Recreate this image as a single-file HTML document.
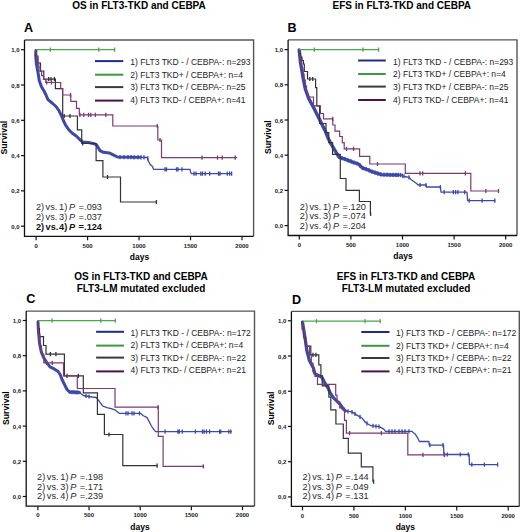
<!DOCTYPE html>
<html><head><meta charset="utf-8"><style>
html,body{margin:0;padding:0;background:#fff;width:520px;height:532px;overflow:hidden}
svg{display:block}
text{font-family:"Liberation Sans", sans-serif}
</style></head><body>
<svg width="520" height="532" viewBox="0 0 520 532">
<rect width="520" height="532" fill="#fff"/>
<text x="139.00" y="8.50" font-size="10" font-weight="bold" text-anchor="middle" fill="#000" >OS in FLT3-TKD and CEBPA</text>
<text x="24.00" y="32.30" font-size="12.6" font-weight="bold" text-anchor="start" fill="#000" >A</text>
<path d="M24.50,40.00 H253.60 V236.30" fill="none" stroke="#555" stroke-width="1.4"/>
<path d="M24.50,40.00 V236.30 H253.60" fill="none" stroke="#111" stroke-width="1.3"/>
<line x1="21.00" y1="226.20" x2="24.50" y2="226.20" stroke="#111" stroke-width="1.2"/>
<text x="19.50" y="228.70" font-size="6.0" font-weight="bold" text-anchor="end" fill="#1a1a1a" >0,0</text>
<line x1="21.00" y1="190.90" x2="24.50" y2="190.90" stroke="#111" stroke-width="1.2"/>
<text x="19.50" y="193.40" font-size="6.0" font-weight="bold" text-anchor="end" fill="#1a1a1a" >0,2</text>
<line x1="21.00" y1="155.60" x2="24.50" y2="155.60" stroke="#111" stroke-width="1.2"/>
<text x="19.50" y="158.10" font-size="6.0" font-weight="bold" text-anchor="end" fill="#1a1a1a" >0,4</text>
<line x1="21.00" y1="120.30" x2="24.50" y2="120.30" stroke="#111" stroke-width="1.2"/>
<text x="19.50" y="122.80" font-size="6.0" font-weight="bold" text-anchor="end" fill="#1a1a1a" >0,6</text>
<line x1="21.00" y1="85.00" x2="24.50" y2="85.00" stroke="#111" stroke-width="1.2"/>
<text x="19.50" y="87.50" font-size="6.0" font-weight="bold" text-anchor="end" fill="#1a1a1a" >0,8</text>
<line x1="21.00" y1="49.70" x2="24.50" y2="49.70" stroke="#111" stroke-width="1.2"/>
<text x="19.50" y="52.20" font-size="6.0" font-weight="bold" text-anchor="end" fill="#1a1a1a" >1,0</text>
<line x1="36.10" y1="236.30" x2="36.10" y2="240.30" stroke="#111" stroke-width="1.2"/>
<text x="36.10" y="247.50" font-size="6.0" font-weight="bold" text-anchor="middle" fill="#1a1a1a" >0</text>
<line x1="87.58" y1="236.30" x2="87.58" y2="240.30" stroke="#111" stroke-width="1.2"/>
<text x="87.58" y="247.50" font-size="6.0" font-weight="bold" text-anchor="middle" fill="#1a1a1a" >500</text>
<line x1="139.05" y1="236.30" x2="139.05" y2="240.30" stroke="#111" stroke-width="1.2"/>
<text x="139.05" y="247.50" font-size="6.0" font-weight="bold" text-anchor="middle" fill="#1a1a1a" >1000</text>
<line x1="190.53" y1="236.30" x2="190.53" y2="240.30" stroke="#111" stroke-width="1.2"/>
<text x="190.53" y="247.50" font-size="6.0" font-weight="bold" text-anchor="middle" fill="#1a1a1a" >1500</text>
<line x1="242.00" y1="236.30" x2="242.00" y2="240.30" stroke="#111" stroke-width="1.2"/>
<text x="242.00" y="247.50" font-size="6.0" font-weight="bold" text-anchor="middle" fill="#1a1a1a" >2000</text>
<text x="139.55" y="260.10" font-size="8.5" font-weight="bold" text-anchor="middle" fill="#000" >days</text>
<text x="0.00" y="0.00" font-size="8.7" font-weight="bold" text-anchor="middle" fill="#000" transform="translate(7.20,137.65) rotate(-90)">Survival</text>
<line x1="95.00" y1="61.10" x2="123.30" y2="61.10" stroke="#1f2a8a" stroke-width="2"/>
<text x="130.30" y="64.90" font-size="8.5" font-weight="normal" text-anchor="start" fill="#222" >1) FLT3 TKD - / CEBPA-: n=293</text>
<line x1="95.00" y1="74.70" x2="123.30" y2="74.70" stroke="#3c9a3c" stroke-width="2"/>
<text x="130.30" y="77.80" font-size="8.5" font-weight="normal" text-anchor="start" fill="#222" >2) FLT3 TKD+ / CEBPA+: n=4</text>
<line x1="95.00" y1="87.10" x2="123.30" y2="87.10" stroke="#3a3a3a" stroke-width="2"/>
<text x="130.30" y="90.40" font-size="8.5" font-weight="normal" text-anchor="start" fill="#222" >3) FLT3 TKD+ / CEBPA-: n=25</text>
<line x1="95.00" y1="100.60" x2="123.30" y2="100.60" stroke="#4a124a" stroke-width="2"/>
<text x="130.30" y="102.80" font-size="8.5" font-weight="normal" text-anchor="start" fill="#222" >4) FLT3 TKD- / CEBPA+: n=41</text>
<text transform="translate(35.90,209.80) scale(1.12,1)" font-size="8.2" font-weight="normal" fill="#2a2a2a">2)</text>
<text transform="translate(45.60,209.80) scale(1.12,1)" font-size="8.2" font-weight="normal" fill="#2a2a2a">vs.</text>
<text transform="translate(59.10,209.80) scale(1.12,1)" font-size="8.2" font-weight="normal" fill="#2a2a2a">1)</text>
<text transform="translate(69.10,209.80) scale(1.12,1)" font-size="8.2" font-weight="normal" fill="#2a2a2a" font-style="italic">P</text>
<text transform="translate(78.60,209.80) scale(1.12,1)" font-size="8.2" font-weight="normal" fill="#2a2a2a">=</text>
<text transform="translate(84.10,209.80) scale(1.12,1)" font-size="8.2" font-weight="normal" fill="#2a2a2a">.093</text>
<text transform="translate(35.90,219.60) scale(1.12,1)" font-size="8.2" font-weight="normal" fill="#2a2a2a">2)</text>
<text transform="translate(45.60,219.60) scale(1.12,1)" font-size="8.2" font-weight="normal" fill="#2a2a2a">vs.</text>
<text transform="translate(59.10,219.60) scale(1.12,1)" font-size="8.2" font-weight="normal" fill="#2a2a2a">3)</text>
<text transform="translate(69.10,219.60) scale(1.12,1)" font-size="8.2" font-weight="normal" fill="#2a2a2a" font-style="italic">P</text>
<text transform="translate(78.60,219.60) scale(1.12,1)" font-size="8.2" font-weight="normal" fill="#2a2a2a">=</text>
<text transform="translate(84.10,219.60) scale(1.12,1)" font-size="8.2" font-weight="normal" fill="#2a2a2a">.037</text>
<text transform="translate(35.90,229.60) scale(1.12,1)" font-size="8.2" font-weight="bold" fill="#111">2)</text>
<text transform="translate(45.60,229.60) scale(1.12,1)" font-size="8.2" font-weight="bold" fill="#111">vs.</text>
<text transform="translate(59.10,229.60) scale(1.12,1)" font-size="8.2" font-weight="bold" fill="#111">4)</text>
<text transform="translate(69.10,229.60) scale(1.12,1)" font-size="8.2" font-weight="bold" fill="#111" font-style="italic">P</text>
<text transform="translate(78.60,229.60) scale(1.12,1)" font-size="8.2" font-weight="bold" fill="#111">=</text>
<text transform="translate(84.10,229.60) scale(1.12,1)" font-size="8.2" font-weight="bold" fill="#111">.124</text>
<text x="401.80" y="8.50" font-size="10" font-weight="bold" text-anchor="middle" fill="#000" >EFS in FLT3-TKD and CEBPA</text>
<text x="287.60" y="32.10" font-size="12.6" font-weight="bold" text-anchor="start" fill="#000" >B</text>
<path d="M288.10,39.90 H517.00 V235.50" fill="none" stroke="#555" stroke-width="1.4"/>
<path d="M288.10,39.90 V235.50 H517.00" fill="none" stroke="#111" stroke-width="1.3"/>
<line x1="284.60" y1="225.60" x2="288.10" y2="225.60" stroke="#111" stroke-width="1.2"/>
<text x="283.10" y="228.10" font-size="6.0" font-weight="bold" text-anchor="end" fill="#1a1a1a" >0,0</text>
<line x1="284.60" y1="190.40" x2="288.10" y2="190.40" stroke="#111" stroke-width="1.2"/>
<text x="283.10" y="192.90" font-size="6.0" font-weight="bold" text-anchor="end" fill="#1a1a1a" >0,2</text>
<line x1="284.60" y1="155.20" x2="288.10" y2="155.20" stroke="#111" stroke-width="1.2"/>
<text x="283.10" y="157.70" font-size="6.0" font-weight="bold" text-anchor="end" fill="#1a1a1a" >0,4</text>
<line x1="284.60" y1="120.00" x2="288.10" y2="120.00" stroke="#111" stroke-width="1.2"/>
<text x="283.10" y="122.50" font-size="6.0" font-weight="bold" text-anchor="end" fill="#1a1a1a" >0,6</text>
<line x1="284.60" y1="84.80" x2="288.10" y2="84.80" stroke="#111" stroke-width="1.2"/>
<text x="283.10" y="87.30" font-size="6.0" font-weight="bold" text-anchor="end" fill="#1a1a1a" >0,8</text>
<line x1="284.60" y1="49.60" x2="288.10" y2="49.60" stroke="#111" stroke-width="1.2"/>
<text x="283.10" y="52.10" font-size="6.0" font-weight="bold" text-anchor="end" fill="#1a1a1a" >1,0</text>
<line x1="299.30" y1="235.50" x2="299.30" y2="239.50" stroke="#111" stroke-width="1.2"/>
<text x="299.30" y="246.70" font-size="6.0" font-weight="bold" text-anchor="middle" fill="#1a1a1a" >0</text>
<line x1="350.90" y1="235.50" x2="350.90" y2="239.50" stroke="#111" stroke-width="1.2"/>
<text x="350.90" y="246.70" font-size="6.0" font-weight="bold" text-anchor="middle" fill="#1a1a1a" >500</text>
<line x1="402.50" y1="235.50" x2="402.50" y2="239.50" stroke="#111" stroke-width="1.2"/>
<text x="402.50" y="246.70" font-size="6.0" font-weight="bold" text-anchor="middle" fill="#1a1a1a" >1000</text>
<line x1="454.10" y1="235.50" x2="454.10" y2="239.50" stroke="#111" stroke-width="1.2"/>
<text x="454.10" y="246.70" font-size="6.0" font-weight="bold" text-anchor="middle" fill="#1a1a1a" >1500</text>
<line x1="505.70" y1="235.50" x2="505.70" y2="239.50" stroke="#111" stroke-width="1.2"/>
<text x="505.70" y="246.70" font-size="6.0" font-weight="bold" text-anchor="middle" fill="#1a1a1a" >2000</text>
<text x="403.05" y="259.30" font-size="8.5" font-weight="bold" text-anchor="middle" fill="#000" >days</text>
<text x="0.00" y="0.00" font-size="8.7" font-weight="bold" text-anchor="middle" fill="#000" transform="translate(270.80,137.20) rotate(-90)">Survival</text>
<line x1="358.10" y1="60.50" x2="385.80" y2="60.50" stroke="#1f2a8a" stroke-width="2"/>
<text x="393.10" y="64.90" font-size="8.5" font-weight="normal" text-anchor="start" fill="#222" >1) FLT3 TKD - / CEBPA-: n=293</text>
<line x1="358.10" y1="74.00" x2="385.80" y2="74.00" stroke="#3c9a3c" stroke-width="2"/>
<text x="393.10" y="77.30" font-size="8.5" font-weight="normal" text-anchor="start" fill="#222" >2) FLT3 TKD+ / CEBPA+: n=4</text>
<line x1="358.10" y1="86.60" x2="385.80" y2="86.60" stroke="#3a3a3a" stroke-width="2"/>
<text x="393.10" y="89.70" font-size="8.5" font-weight="normal" text-anchor="start" fill="#222" >3) FLT3 TKD+ / CEBPA-: n=25</text>
<line x1="358.10" y1="100.00" x2="385.80" y2="100.00" stroke="#4a124a" stroke-width="2"/>
<text x="393.10" y="102.60" font-size="8.5" font-weight="normal" text-anchor="start" fill="#222" >4) FLT3 TKD- / CEBPA+: n=41</text>
<text transform="translate(299.80,209.50) scale(1.12,1)" font-size="8.2" font-weight="normal" fill="#2a2a2a">2)</text>
<text transform="translate(309.50,209.50) scale(1.12,1)" font-size="8.2" font-weight="normal" fill="#2a2a2a">vs.</text>
<text transform="translate(323.00,209.50) scale(1.12,1)" font-size="8.2" font-weight="normal" fill="#2a2a2a">1)</text>
<text transform="translate(333.00,209.50) scale(1.12,1)" font-size="8.2" font-weight="normal" fill="#2a2a2a" font-style="italic">P</text>
<text transform="translate(342.50,209.50) scale(1.12,1)" font-size="8.2" font-weight="normal" fill="#2a2a2a">=</text>
<text transform="translate(348.00,209.50) scale(1.12,1)" font-size="8.2" font-weight="normal" fill="#2a2a2a">.120</text>
<text transform="translate(299.80,219.20) scale(1.12,1)" font-size="8.2" font-weight="normal" fill="#2a2a2a">2)</text>
<text transform="translate(309.50,219.20) scale(1.12,1)" font-size="8.2" font-weight="normal" fill="#2a2a2a">vs.</text>
<text transform="translate(323.00,219.20) scale(1.12,1)" font-size="8.2" font-weight="normal" fill="#2a2a2a">3)</text>
<text transform="translate(333.00,219.20) scale(1.12,1)" font-size="8.2" font-weight="normal" fill="#2a2a2a" font-style="italic">P</text>
<text transform="translate(342.50,219.20) scale(1.12,1)" font-size="8.2" font-weight="normal" fill="#2a2a2a">=</text>
<text transform="translate(348.00,219.20) scale(1.12,1)" font-size="8.2" font-weight="normal" fill="#2a2a2a">.074</text>
<text transform="translate(299.80,229.00) scale(1.12,1)" font-size="8.2" font-weight="normal" fill="#2a2a2a">2)</text>
<text transform="translate(309.50,229.00) scale(1.12,1)" font-size="8.2" font-weight="normal" fill="#2a2a2a">vs.</text>
<text transform="translate(323.00,229.00) scale(1.12,1)" font-size="8.2" font-weight="normal" fill="#2a2a2a">4)</text>
<text transform="translate(333.00,229.00) scale(1.12,1)" font-size="8.2" font-weight="normal" fill="#2a2a2a" font-style="italic">P</text>
<text transform="translate(342.50,229.00) scale(1.12,1)" font-size="8.2" font-weight="normal" fill="#2a2a2a">=</text>
<text transform="translate(348.00,229.00) scale(1.12,1)" font-size="8.2" font-weight="normal" fill="#2a2a2a">.204</text>
<text x="141.00" y="279.90" font-size="10" font-weight="bold" text-anchor="middle" fill="#000" >OS in FLT3-TKD and CEBPA</text>
<text x="141.00" y="292.30" font-size="10" font-weight="bold" text-anchor="middle" fill="#000" >FLT3-LM mutated excluded</text>
<text x="26.20" y="303.30" font-size="12.6" font-weight="bold" text-anchor="start" fill="#000" >C</text>
<path d="M26.20,311.10 H254.50 V506.20" fill="none" stroke="#555" stroke-width="1.4"/>
<path d="M26.20,311.10 V506.20 H254.50" fill="none" stroke="#111" stroke-width="1.3"/>
<line x1="22.70" y1="496.50" x2="26.20" y2="496.50" stroke="#111" stroke-width="1.2"/>
<text x="21.20" y="499.00" font-size="6.0" font-weight="bold" text-anchor="end" fill="#1a1a1a" >0,0</text>
<line x1="22.70" y1="461.30" x2="26.20" y2="461.30" stroke="#111" stroke-width="1.2"/>
<text x="21.20" y="463.80" font-size="6.0" font-weight="bold" text-anchor="end" fill="#1a1a1a" >0,2</text>
<line x1="22.70" y1="426.10" x2="26.20" y2="426.10" stroke="#111" stroke-width="1.2"/>
<text x="21.20" y="428.60" font-size="6.0" font-weight="bold" text-anchor="end" fill="#1a1a1a" >0,4</text>
<line x1="22.70" y1="390.90" x2="26.20" y2="390.90" stroke="#111" stroke-width="1.2"/>
<text x="21.20" y="393.40" font-size="6.0" font-weight="bold" text-anchor="end" fill="#1a1a1a" >0,6</text>
<line x1="22.70" y1="355.70" x2="26.20" y2="355.70" stroke="#111" stroke-width="1.2"/>
<text x="21.20" y="358.20" font-size="6.0" font-weight="bold" text-anchor="end" fill="#1a1a1a" >0,8</text>
<line x1="22.70" y1="320.50" x2="26.20" y2="320.50" stroke="#111" stroke-width="1.2"/>
<text x="21.20" y="323.00" font-size="6.0" font-weight="bold" text-anchor="end" fill="#1a1a1a" >1,0</text>
<line x1="37.90" y1="506.20" x2="37.90" y2="510.20" stroke="#111" stroke-width="1.2"/>
<text x="37.90" y="517.40" font-size="6.0" font-weight="bold" text-anchor="middle" fill="#1a1a1a" >0</text>
<line x1="89.05" y1="506.20" x2="89.05" y2="510.20" stroke="#111" stroke-width="1.2"/>
<text x="89.05" y="517.40" font-size="6.0" font-weight="bold" text-anchor="middle" fill="#1a1a1a" >500</text>
<line x1="140.20" y1="506.20" x2="140.20" y2="510.20" stroke="#111" stroke-width="1.2"/>
<text x="140.20" y="517.40" font-size="6.0" font-weight="bold" text-anchor="middle" fill="#1a1a1a" >1000</text>
<line x1="191.35" y1="506.20" x2="191.35" y2="510.20" stroke="#111" stroke-width="1.2"/>
<text x="191.35" y="517.40" font-size="6.0" font-weight="bold" text-anchor="middle" fill="#1a1a1a" >1500</text>
<line x1="242.50" y1="506.20" x2="242.50" y2="510.20" stroke="#111" stroke-width="1.2"/>
<text x="242.50" y="517.40" font-size="6.0" font-weight="bold" text-anchor="middle" fill="#1a1a1a" >2000</text>
<text x="140.05" y="530.00" font-size="8.5" font-weight="bold" text-anchor="middle" fill="#000" >days</text>
<text x="0.00" y="0.00" font-size="8.7" font-weight="bold" text-anchor="middle" fill="#000" transform="translate(8.90,408.15) rotate(-90)">Survival</text>
<line x1="96.10" y1="331.80" x2="124.00" y2="331.80" stroke="#1f2a8a" stroke-width="2"/>
<text x="130.60" y="335.90" font-size="8.5" font-weight="normal" text-anchor="start" fill="#222" >1) FLT3 TKD - / CEBPA-: n=172</text>
<line x1="96.10" y1="345.60" x2="124.00" y2="345.60" stroke="#3c9a3c" stroke-width="2"/>
<text x="130.60" y="347.80" font-size="8.5" font-weight="normal" text-anchor="start" fill="#222" >2) FLT3 TKD+ / CEBPA+: n=4</text>
<line x1="96.10" y1="357.60" x2="124.00" y2="357.60" stroke="#3a3a3a" stroke-width="2"/>
<text x="130.60" y="360.70" font-size="8.5" font-weight="normal" text-anchor="start" fill="#222" >3) FLT3 TKD+ / CEBPA-: n=22</text>
<line x1="96.10" y1="371.40" x2="124.00" y2="371.40" stroke="#4a124a" stroke-width="2"/>
<text x="130.60" y="373.10" font-size="8.5" font-weight="normal" text-anchor="start" fill="#222" >4) FLT3 TKD- / CEBPA+: n=21</text>
<text transform="translate(37.10,479.80) scale(1.12,1)" font-size="8.2" font-weight="normal" fill="#2a2a2a">2)</text>
<text transform="translate(46.80,479.80) scale(1.12,1)" font-size="8.2" font-weight="normal" fill="#2a2a2a">vs.</text>
<text transform="translate(60.30,479.80) scale(1.12,1)" font-size="8.2" font-weight="normal" fill="#2a2a2a">1)</text>
<text transform="translate(70.30,479.80) scale(1.12,1)" font-size="8.2" font-weight="normal" fill="#2a2a2a" font-style="italic">P</text>
<text transform="translate(79.80,479.80) scale(1.12,1)" font-size="8.2" font-weight="normal" fill="#2a2a2a">=</text>
<text transform="translate(85.30,479.80) scale(1.12,1)" font-size="8.2" font-weight="normal" fill="#2a2a2a">.198</text>
<text transform="translate(37.10,489.60) scale(1.12,1)" font-size="8.2" font-weight="normal" fill="#2a2a2a">2)</text>
<text transform="translate(46.80,489.60) scale(1.12,1)" font-size="8.2" font-weight="normal" fill="#2a2a2a">vs.</text>
<text transform="translate(60.30,489.60) scale(1.12,1)" font-size="8.2" font-weight="normal" fill="#2a2a2a">3)</text>
<text transform="translate(70.30,489.60) scale(1.12,1)" font-size="8.2" font-weight="normal" fill="#2a2a2a" font-style="italic">P</text>
<text transform="translate(79.80,489.60) scale(1.12,1)" font-size="8.2" font-weight="normal" fill="#2a2a2a">=</text>
<text transform="translate(85.30,489.60) scale(1.12,1)" font-size="8.2" font-weight="normal" fill="#2a2a2a">.171</text>
<text transform="translate(37.10,499.40) scale(1.12,1)" font-size="8.2" font-weight="normal" fill="#2a2a2a">2)</text>
<text transform="translate(46.80,499.40) scale(1.12,1)" font-size="8.2" font-weight="normal" fill="#2a2a2a">vs.</text>
<text transform="translate(60.30,499.40) scale(1.12,1)" font-size="8.2" font-weight="normal" fill="#2a2a2a">4)</text>
<text transform="translate(70.30,499.40) scale(1.12,1)" font-size="8.2" font-weight="normal" fill="#2a2a2a" font-style="italic">P</text>
<text transform="translate(79.80,499.40) scale(1.12,1)" font-size="8.2" font-weight="normal" fill="#2a2a2a">=</text>
<text transform="translate(85.30,499.40) scale(1.12,1)" font-size="8.2" font-weight="normal" fill="#2a2a2a">.239</text>
<text x="406.00" y="279.90" font-size="10" font-weight="bold" text-anchor="middle" fill="#000" >EFS in FLT3-TKD and CEBPA</text>
<text x="406.00" y="292.30" font-size="10" font-weight="bold" text-anchor="middle" fill="#000" >FLT3-LM mutated excluded</text>
<text x="292.00" y="304.00" font-size="12.6" font-weight="bold" text-anchor="start" fill="#000" >D</text>
<path d="M291.40,311.40 H519.30 V506.40" fill="none" stroke="#555" stroke-width="1.4"/>
<path d="M291.40,311.40 V506.40 H519.30" fill="none" stroke="#111" stroke-width="1.3"/>
<line x1="287.90" y1="496.90" x2="291.40" y2="496.90" stroke="#111" stroke-width="1.2"/>
<text x="286.40" y="499.40" font-size="6.0" font-weight="bold" text-anchor="end" fill="#1a1a1a" >0,0</text>
<line x1="287.90" y1="461.68" x2="291.40" y2="461.68" stroke="#111" stroke-width="1.2"/>
<text x="286.40" y="464.18" font-size="6.0" font-weight="bold" text-anchor="end" fill="#1a1a1a" >0,2</text>
<line x1="287.90" y1="426.46" x2="291.40" y2="426.46" stroke="#111" stroke-width="1.2"/>
<text x="286.40" y="428.96" font-size="6.0" font-weight="bold" text-anchor="end" fill="#1a1a1a" >0,4</text>
<line x1="287.90" y1="391.24" x2="291.40" y2="391.24" stroke="#111" stroke-width="1.2"/>
<text x="286.40" y="393.74" font-size="6.0" font-weight="bold" text-anchor="end" fill="#1a1a1a" >0,6</text>
<line x1="287.90" y1="356.02" x2="291.40" y2="356.02" stroke="#111" stroke-width="1.2"/>
<text x="286.40" y="358.52" font-size="6.0" font-weight="bold" text-anchor="end" fill="#1a1a1a" >0,8</text>
<line x1="287.90" y1="320.80" x2="291.40" y2="320.80" stroke="#111" stroke-width="1.2"/>
<text x="286.40" y="323.30" font-size="6.0" font-weight="bold" text-anchor="end" fill="#1a1a1a" >1,0</text>
<line x1="302.50" y1="506.40" x2="302.50" y2="510.40" stroke="#111" stroke-width="1.2"/>
<text x="302.50" y="517.60" font-size="6.0" font-weight="bold" text-anchor="middle" fill="#1a1a1a" >0</text>
<line x1="353.93" y1="506.40" x2="353.93" y2="510.40" stroke="#111" stroke-width="1.2"/>
<text x="353.93" y="517.60" font-size="6.0" font-weight="bold" text-anchor="middle" fill="#1a1a1a" >500</text>
<line x1="405.35" y1="506.40" x2="405.35" y2="510.40" stroke="#111" stroke-width="1.2"/>
<text x="405.35" y="517.60" font-size="6.0" font-weight="bold" text-anchor="middle" fill="#1a1a1a" >1000</text>
<line x1="456.77" y1="506.40" x2="456.77" y2="510.40" stroke="#111" stroke-width="1.2"/>
<text x="456.77" y="517.60" font-size="6.0" font-weight="bold" text-anchor="middle" fill="#1a1a1a" >1500</text>
<line x1="508.20" y1="506.40" x2="508.20" y2="510.40" stroke="#111" stroke-width="1.2"/>
<text x="508.20" y="517.60" font-size="6.0" font-weight="bold" text-anchor="middle" fill="#1a1a1a" >2000</text>
<text x="405.35" y="530.20" font-size="8.5" font-weight="bold" text-anchor="middle" fill="#000" >days</text>
<text x="0.00" y="0.00" font-size="8.7" font-weight="bold" text-anchor="middle" fill="#000" transform="translate(274.10,408.40) rotate(-90)">Survival</text>
<line x1="361.30" y1="332.00" x2="389.50" y2="332.00" stroke="#1f2a8a" stroke-width="2"/>
<text x="396.10" y="336.00" font-size="8.5" font-weight="normal" text-anchor="start" fill="#222" >1) FLT3 TKD - / CEBPA-: n=172</text>
<line x1="361.30" y1="345.80" x2="389.50" y2="345.80" stroke="#3c9a3c" stroke-width="2"/>
<text x="396.10" y="348.70" font-size="8.5" font-weight="normal" text-anchor="start" fill="#222" >2) FLT3 TKD+ / CEBPA+: n=4</text>
<line x1="361.30" y1="358.00" x2="389.50" y2="358.00" stroke="#3a3a3a" stroke-width="2"/>
<text x="396.10" y="361.30" font-size="8.5" font-weight="normal" text-anchor="start" fill="#222" >3) FLT3 TKD+ / CEBPA-: n=22</text>
<line x1="361.30" y1="371.40" x2="389.50" y2="371.40" stroke="#4a124a" stroke-width="2"/>
<text x="396.10" y="373.40" font-size="8.5" font-weight="normal" text-anchor="start" fill="#222" >4) FLT3 TKD- / CEBPA+: n=21</text>
<text transform="translate(302.60,479.80) scale(1.12,1)" font-size="8.2" font-weight="normal" fill="#2a2a2a">2)</text>
<text transform="translate(312.30,479.80) scale(1.12,1)" font-size="8.2" font-weight="normal" fill="#2a2a2a">vs.</text>
<text transform="translate(325.80,479.80) scale(1.12,1)" font-size="8.2" font-weight="normal" fill="#2a2a2a">1)</text>
<text transform="translate(335.80,479.80) scale(1.12,1)" font-size="8.2" font-weight="normal" fill="#2a2a2a" font-style="italic">P</text>
<text transform="translate(345.30,479.80) scale(1.12,1)" font-size="8.2" font-weight="normal" fill="#2a2a2a">=</text>
<text transform="translate(350.80,479.80) scale(1.12,1)" font-size="8.2" font-weight="normal" fill="#2a2a2a">.144</text>
<text transform="translate(302.60,489.60) scale(1.12,1)" font-size="8.2" font-weight="normal" fill="#2a2a2a">2)</text>
<text transform="translate(312.30,489.60) scale(1.12,1)" font-size="8.2" font-weight="normal" fill="#2a2a2a">vs.</text>
<text transform="translate(325.80,489.60) scale(1.12,1)" font-size="8.2" font-weight="normal" fill="#2a2a2a">3)</text>
<text transform="translate(335.80,489.60) scale(1.12,1)" font-size="8.2" font-weight="normal" fill="#2a2a2a" font-style="italic">P</text>
<text transform="translate(345.30,489.60) scale(1.12,1)" font-size="8.2" font-weight="normal" fill="#2a2a2a">=</text>
<text transform="translate(350.80,489.60) scale(1.12,1)" font-size="8.2" font-weight="normal" fill="#2a2a2a">.049</text>
<text transform="translate(302.60,499.40) scale(1.12,1)" font-size="8.2" font-weight="normal" fill="#2a2a2a">2)</text>
<text transform="translate(312.30,499.40) scale(1.12,1)" font-size="8.2" font-weight="normal" fill="#2a2a2a">vs.</text>
<text transform="translate(325.80,499.40) scale(1.12,1)" font-size="8.2" font-weight="normal" fill="#2a2a2a">4)</text>
<text transform="translate(335.80,499.40) scale(1.12,1)" font-size="8.2" font-weight="normal" fill="#2a2a2a" font-style="italic">P</text>
<text transform="translate(345.30,499.40) scale(1.12,1)" font-size="8.2" font-weight="normal" fill="#2a2a2a">=</text>
<text transform="translate(350.80,499.40) scale(1.12,1)" font-size="8.2" font-weight="normal" fill="#2a2a2a">.131</text>
<path d="M35.80,49.90 L35.60,55.50 L36.40,64.00 L38.00,72.40 L39.30,80.80 L41.50,86.70 L44.00,91.00 L45.80,94.50 L48.00,99.60 L52.10,103.00 L56.00,106.50 L58.80,110.40 L61.50,115.80 L63.60,121.00 L65.60,125.20 L69.00,130.00 L72.30,133.30 L76.30,136.00 L79.20,139.00 L82.70,142.00 L88.50,142.50 L94.20,143.70 L96.50,144.80 L100.00,150.60 L103.50,152.30 L109.20,152.90 L112.70,154.60 L117.50,157.00 L147.50,157.50 L148.40,161.00 L150.00,164.30 L152.50,166.50 L153.50,169.40 L190.00,169.40 L190.40,171.60 L191.30,173.60 L231.80,173.60" fill="none" stroke="#3b49a8" stroke-width="1.3" stroke-linejoin="round"/>
<path d="M35.90,50.50 L35.70,55.50 L36.40,64.00 L38.00,72.40 L39.30,80.80 L41.50,86.70 L44.00,91.00 L45.80,94.50 L48.00,99.60 L52.10,103.00 L56.00,106.50 L58.80,110.40 L61.50,115.80 L63.60,121.00 L65.60,125.20 L69.00,130.00 L72.30,133.30 L76.30,136.00 L79.20,139.00 L82.70,142.00 L88.50,142.50 L94.20,143.70 L96.50,144.80 L100.00,150.60 L103.50,152.30 L109.20,152.90 L112.70,154.60 L117.50,157.00 L140.00,157.30" fill="none" stroke="#3b49a8" stroke-width="3.0" stroke-linejoin="round" stroke-linecap="round"/>
<path d="M120.00,154.94 V159.14 M124.00,155.01 V159.21 M128.00,155.08 V159.28 M131.00,155.12 V159.32 M134.00,155.18 V159.38 M138.00,155.24 V159.44 M141.00,155.29 V159.49 M144.00,155.34 V159.54 M147.70,156.18 V160.38 M165.00,167.30 V171.50 M166.50,167.30 V171.50 M176.50,167.30 V171.50 M178.00,167.30 V171.50 M182.00,167.30 V171.50 M194.00,171.50 V175.70 M196.00,171.50 V175.70 M200.80,171.50 V175.70 M202.50,171.50 V175.70 M205.20,171.50 V175.70 M209.70,171.50 V175.70 M218.50,171.50 V175.70 M220.00,171.50 V175.70 M227.30,171.50 V175.70 M229.60,171.50 V175.70 M231.60,171.50 V175.70" stroke="#3b49a8" stroke-width="1.3" fill="none"/>
<path d="M35.8,49.6 H114.8" fill="none" stroke="#4aa84a" stroke-width="1.2"/>
<path d="M50.30,47.50 V51.70 M98.80,47.50 V51.70 M114.60,47.50 V51.70" stroke="#4aa84a" stroke-width="1.3" fill="none"/>
<path d="M35.8,49.9 V56 H38 V63 H40.5 V71 H43.8 V79.1 H55.4 V88.7 H62.7 V116 H77.4 V129.8 H81.7 V143.5 H96.1 V160.6 H102.9 V177 H120.5 V202 H156.6" fill="none" stroke="#333333" stroke-width="1.2"/>
<path d="M48.70,77.00 V81.20 M51.00,77.00 V81.20 M54.40,77.00 V81.20 M64.20,113.90 V118.10 M70.00,113.90 V118.10 M82.70,141.40 V145.60 M107.50,174.90 V179.10 M156.40,199.90 V204.10" stroke="#333333" stroke-width="1.3" fill="none"/>
<path d="M35.8,49.9 V54.2 H36.6 V58.5 H37.6 V62.8 H38.8 V67.1 H40 V71.4 H41.6 V75.7 H43.5 V79.5 H45.8 V82.5 H60.7 V88.7 H62.6 V95 H70.8 V101.3 H76.5 V108.3 H79.3 V114.8 H112.8 V126 H157.8 V140 H161.5 V157.6 H237" fill="none" stroke="#7a3a74" stroke-width="1.2"/>
<path d="M46.70,80.40 V84.60 M51.50,80.40 V84.60 M70.50,92.90 V97.10 M79.90,112.70 V116.90 M83.80,112.70 V116.90 M88.50,112.70 V116.90 M90.80,112.70 V116.90 M95.40,112.70 V116.90 M105.80,112.70 V116.90 M157.30,123.90 V128.10 M160.00,137.90 V142.10 M202.00,155.50 V159.70 M217.50,155.50 V159.70 M222.20,155.50 V159.70 M235.20,155.50 V159.70" stroke="#7a3a74" stroke-width="1.3" fill="none"/>
<path d="M299.20,49.90 L299.80,56.00 L300.50,62.50 L301.70,70.00 L303.00,77.50 L304.20,84.00 L305.30,89.00 L307.00,94.00 L308.70,98.50 L311.00,102.50 L314.20,108.80 L316.50,113.50 L318.80,118.00 L321.90,124.20 L325.00,130.40 L328.00,138.00 L331.20,144.20 L335.80,151.90 L339.20,157.30 L345.00,159.20 L352.70,162.10 L358.50,164.00 L362.30,167.90 L368.00,169.80 L372.00,171.70 L381.50,174.60 L400.80,175.00 L404.60,176.50 L409.00,177.40 L411.30,179.70 L415.90,183.10 L418.20,185.00 L426.10,185.00 L426.50,187.00 L440.40,187.00 L441.00,192.20 L467.00,192.20 L467.60,200.60 L495.30,200.60" fill="none" stroke="#3b49a8" stroke-width="1.3" stroke-linejoin="round"/>
<path d="M299.20,50.00 L300.50,62.50 L303.00,77.50 L305.30,89.00 L308.70,98.50 L314.20,108.80 L318.80,118.00 L321.90,124.20 L325.00,130.40 L328.00,138.00 L331.20,144.20 L335.80,151.90 L339.20,157.30 L345.00,159.20 L352.70,162.10 L358.50,164.00 L362.30,167.90 L368.00,169.80 L372.00,171.70 L381.50,174.60 L398.00,175.00" fill="none" stroke="#3b49a8" stroke-width="3.4" stroke-linejoin="round" stroke-linecap="round"/>
<path d="M342.00,156.12 V160.32 M345.00,157.10 V161.30 M348.00,158.23 V162.43 M351.00,159.36 V163.56 M354.00,160.43 V164.63 M357.00,161.41 V165.61 M360.00,163.44 V167.64 M363.00,166.03 V170.23 M366.00,167.03 V171.23 M369.00,168.18 V172.38 M372.00,169.60 V173.80 M375.00,170.52 V174.72 M378.00,171.43 V175.63 M381.00,172.35 V176.55 M384.00,172.55 V176.75 M387.00,172.61 V176.81 M390.00,172.68 V176.88 M393.00,172.74 V176.94 M396.00,172.80 V177.00 M398.50,172.85 V177.05 M400.50,172.89 V177.09 M402.30,173.49 V177.69 M404.00,174.16 V178.36 M409.00,175.30 V179.50 M420.00,182.90 V187.10 M426.00,182.90 V187.10 M440.40,184.90 V189.10 M444.20,190.10 V194.30 M453.30,190.10 V194.30 M455.60,190.10 V194.30 M457.90,190.10 V194.30 M464.70,190.10 V194.30 M469.20,198.50 V202.70 M482.10,198.50 V202.70 M494.80,198.50 V202.70" stroke="#3b49a8" stroke-width="1.3" fill="none"/>
<path d="M299.2,49.6 H379" fill="none" stroke="#4aa84a" stroke-width="1.2"/>
<path d="M314.30,47.50 V51.70 M363.00,47.50 V51.70 M378.60,47.50 V51.70" stroke="#4aa84a" stroke-width="1.3" fill="none"/>
<path d="M299.2,49.9 V53.5 H300.5 V57 H302 V60.5 H303.4 V64 H304.3 V71.5 H307.5 V79 H315.6 V87.7 H316.8 V105.8 H319.6 V123.5 H326 V132.7 H328.8 V142.7 H332.6 V154.3 H340.3 V178.5 H346 V190.4 H359.4 V201.5 H370.4 V214" fill="none" stroke="#333333" stroke-width="1.2"/>
<path d="M309.80,76.90 V81.10 M312.70,76.90 V81.10 M370.60,211.90 V216.10" stroke="#333333" stroke-width="1.3" fill="none"/>
<path d="M299.2,49.9 V56 H300.3 V62 H301.5 V68 H302.8 V74 H304 V80 H305.2 V86 H306.5 V92 H307.5 V97 H313.5 V105.8 H320.4 V113.5 H323.5 V118.8 H332.8 V125 H335 V131.2 H339.6 V136.5 H342.3 V142.7 H344.2 V148.8 H359.6 V156.4 H369.8 V164 H405.3 V173.4 H470.8 V191 H498.7" fill="none" stroke="#7a3a74" stroke-width="1.2"/>
<path d="M332.70,116.70 V120.90 M346.50,146.70 V150.90 M353.50,146.70 V150.90 M377.50,161.90 V166.10 M420.00,171.30 V175.50 M422.70,171.30 V175.50 M465.40,171.30 V175.50 M485.80,188.90 V193.10 M498.50,188.90 V193.10" stroke="#7a3a74" stroke-width="1.3" fill="none"/>
<path d="M37.90,320.70 L38.50,332.00 L39.60,343.80 L41.30,351.90 L43.70,357.70 L46.50,362.30 L50.00,366.90 L54.60,369.20 L58.10,371.50 L60.40,375.00 L62.00,379.50 L64.50,384.50 L67.00,389.50 L69.50,392.00 L79.50,392.50 L83.30,395.50 L92.00,397.00 L96.30,397.50 L99.50,401.70 L102.70,406.00 L106.90,407.70 L111.20,408.70 L115.40,410.20 L119.60,413.40 L140.80,413.40 L142.90,415.50 L147.10,417.60 L149.20,421.80 L151.40,426.00 L153.50,429.20 L155.60,431.70 L231.80,431.70" fill="none" stroke="#3b49a8" stroke-width="1.3" stroke-linejoin="round"/>
<path d="M38.00,322.00 L38.50,332.00 L39.60,343.80 L41.30,351.90 L43.70,357.70 L46.50,362.30 L50.00,366.90 L54.60,369.20 L58.10,371.50 L60.40,375.00 L62.00,379.50 L64.50,384.50 L67.00,389.50 L69.50,392.00 L79.50,392.50" fill="none" stroke="#3b49a8" stroke-width="3.0" stroke-linejoin="round" stroke-linecap="round"/>
<path d="M70.00,389.92 V394.12 M72.00,390.02 V394.23 M74.00,390.12 V394.33 M76.00,390.22 V394.43 M78.00,390.32 V394.53 M86.00,393.87 V398.07 M89.00,394.38 V398.58 M126.00,411.30 V415.50 M128.00,411.30 V415.50 M132.00,411.30 V415.50 M134.00,411.30 V415.50 M139.50,411.30 V415.50 M165.10,429.60 V433.80 M177.90,429.60 V433.80 M179.30,429.60 V433.80 M182.30,429.60 V433.80 M195.40,429.60 V433.80 M202.50,429.60 V433.80 M204.10,429.60 V433.80 M206.50,429.60 V433.80 M209.60,429.60 V433.80 M219.70,429.60 V433.80 M220.70,429.60 V433.80 M228.80,429.60 V433.80 M230.80,429.60 V433.80" stroke="#3b49a8" stroke-width="1.3" fill="none"/>
<path d="M37.9,320.6 H115.6" fill="none" stroke="#4aa84a" stroke-width="1.2"/>
<path d="M52.10,318.50 V322.70 M100.80,318.50 V322.70 M115.40,318.50 V322.70" stroke="#4aa84a" stroke-width="1.3" fill="none"/>
<path d="M37.9,320.7 V328.7 H39.5 V336.7 H43.5 V345.5 H46 V354.2 H64.4 V375.8 H83.3 V392.8 H97.4 V414.4 H104.4 V434.5 H122.8 V465.6 H157.3" fill="none" stroke="#333333" stroke-width="1.2"/>
<path d="M50.40,352.10 V356.30 M55.90,352.10 V356.30 M67.00,373.70 V377.90 M78.30,373.70 V377.90 M109.00,432.40 V436.60 M157.10,463.50 V467.70" stroke="#333333" stroke-width="1.3" fill="none"/>
<path d="M37.9,320.7 V329.1 H38.6 V337.5 H39.8 V345.9 H41.5 V354.3 H43.8 V362.8 H63.5 V375.8 H77.3 V388.5 H115 V407.1 H158.3 V436.4 H163.1 V466.4 H203.5" fill="none" stroke="#7a3a74" stroke-width="1.2"/>
<path d="M39.80,333.70 V337.90 M46.80,360.70 V364.90 M52.30,360.70 V364.90 M158.00,405.00 V409.20 M203.30,464.30 V468.50" stroke="#7a3a74" stroke-width="1.3" fill="none"/>
<path d="M302.30,321.20 L303.30,327.00 L304.50,334.50 L305.50,341.00 L306.80,350.50 L309.40,360.50 L313.50,368.30 L314.80,373.60 L318.80,375.70 L322.20,377.70 L324.90,383.10 L328.30,388.50 L330.30,393.20 L333.60,397.90 L337.70,401.90 L340.40,404.60 L343.00,408.60 L345.40,410.90 L351.70,411.90 L357.00,415.10 L362.30,418.30 L365.50,422.50 L370.80,425.70 L379.20,426.70 L383.50,428.80 L385.60,431.40 L412.00,431.40 L413.10,432.50 L415.20,434.10 L417.30,437.30 L419.40,441.50 L428.90,441.50 L429.30,445.10 L443.50,445.10 L443.90,454.50 L469.10,454.50 L469.50,464.60 L498.00,464.60" fill="none" stroke="#3b49a8" stroke-width="1.3" stroke-linejoin="round"/>
<path d="M302.50,322.00 L304.50,334.50 L305.50,341.00 L306.80,350.50 L309.40,360.50 L313.50,368.30 L314.80,373.60 L318.80,375.70 L322.20,377.70 L324.90,383.10 L328.30,388.50 L330.30,393.20 L333.60,397.90 L337.70,401.90 L340.40,404.60 L343.00,408.60 L345.40,410.90" fill="none" stroke="#3b49a8" stroke-width="3.2" stroke-linejoin="round" stroke-linecap="round"/>
<path d="M348.00,409.21 V413.41 M352.00,409.98 V414.18 M355.00,411.79 V415.99 M360.00,414.81 V419.01 M367.00,421.31 V425.51 M373.00,423.86 V428.06 M376.00,424.22 V428.42 M379.00,424.58 V428.78 M389.00,429.30 V433.50 M392.00,429.30 V433.50 M395.00,429.30 V433.50 M399.00,429.30 V433.50 M402.00,429.30 V433.50 M405.00,429.30 V433.50 M409.00,429.30 V433.50 M429.90,443.00 V447.20 M443.00,443.00 V447.20 M444.50,452.40 V456.60 M447.30,452.40 V456.60 M460.30,452.40 V456.60 M468.30,452.40 V456.60 M471.80,462.50 V466.70 M484.40,462.50 V466.70 M497.60,462.50 V466.70" stroke="#3b49a8" stroke-width="1.3" fill="none"/>
<path d="M302.3,321.1 H380.5" fill="none" stroke="#4aa84a" stroke-width="1.2"/>
<path d="M316.50,319.00 V323.20 M365.00,319.00 V323.20 M380.20,319.00 V323.20" stroke="#4aa84a" stroke-width="1.3" fill="none"/>
<path d="M302.3,321.2 V329.2 H303.5 V337.2 H305.5 V346 H310.8 V354.8 H318.8 V364.9 H320.9 V375.7 H322.2 V385.8 H328.9 V397.2 H330.8 V409.8 H335.9 V424 H343.3 V438.4 H348.3 V453.2 H361.3 V466.9 H372.9 V481.7" fill="none" stroke="#333333" stroke-width="1.2"/>
<path d="M313.00,352.70 V356.90 M315.90,352.70 V356.90 M373.60,479.60 V483.80" stroke="#333333" stroke-width="1.3" fill="none"/>
<path d="M302.3,321.2 V329.6 H304 V338 H306 V346.4 H309.5 V354.8 H311.3 V363.2 H313 V371.6 H315 V376.3 H317.5 V384.4 H335.7 V395.2 H337 V401.9 H339.7 V408 H344.5 V420.4 H346.4 V433.1 H407.8 V454.8 H444.6" fill="none" stroke="#7a3a74" stroke-width="1.2"/>
<path d="M349.60,431.00 V435.20 M381.30,431.00 V435.20 M423.00,452.70 V456.90 M444.40,452.70 V456.90" stroke="#7a3a74" stroke-width="1.3" fill="none"/>
</svg>
</body></html>
